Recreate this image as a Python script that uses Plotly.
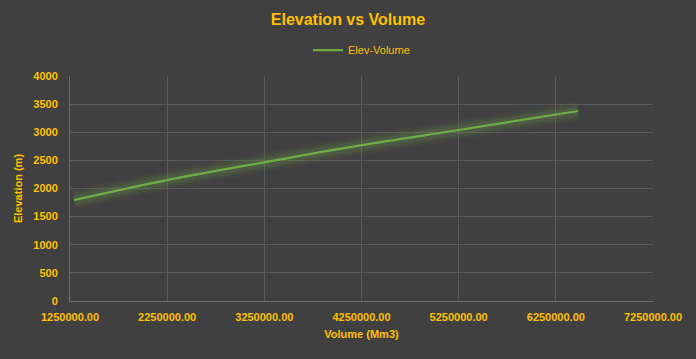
import plotly.graph_objects as go

volume = [1290000, 2250000, 3250000, 4250000, 5250000, 6480000]
elevation = [1795, 2150, 2465, 2770, 3040, 3378]
series_name = "Elev-Volume"
x_ticks = [1250000, 2250000, 3250000, 4250000, 5250000, 6250000, 7250000]
y_ticks = [0, 500, 1000, 1500, 2000, 2500, 3000, 3500, 4000]

gold = "#FFC000"
font_family = "Liberation Sans Narrow, Liberation Sans, Arial"

fig = go.Figure()
# glow layers
for w, a in [(20, 0.06), (14, 0.09), (9, 0.14)]:
    fig.add_trace(go.Scatter(x=volume, y=elevation, mode="lines",
                             line=dict(color=f"rgba(112,173,71,{a})", width=w, shape="spline"),
                             hoverinfo="skip", showlegend=False))
fig.add_trace(go.Scatter(x=volume, y=elevation, mode="lines", name=series_name,
                         line=dict(color="#70AD47", width=2.2, shape="spline")))

fig.update_layout(
    width=696, height=359,
    paper_bgcolor="#404040", plot_bgcolor="#404040",
    margin=dict(l=70, r=43, t=76, b=58),
    font=dict(family=font_family, color=gold, size=11),
    title=dict(text="<b>Elevation vs Volume</b>", x=0.5, xanchor="center", y=0.947, yanchor="middle",
               font=dict(size=16, color=gold, family=font_family)),
    legend=dict(orientation="h", x=0.5, xanchor="center", y=1.115, yanchor="middle",
                font=dict(size=11, color=gold), bgcolor="rgba(0,0,0,0)"),
    xaxis=dict(range=[x_ticks[0], x_ticks[-1]], tickvals=x_ticks,
               ticktext=[f"<b>{v:.2f}</b>" for v in x_ticks],
               showgrid=True, gridcolor="#5a5a5a", gridwidth=1,
               showline=True, linecolor="#6e6e6e", zeroline=False,
               ticks="", tickfont=dict(size=11, color=gold), ticklabelstandoff=6,
               title=dict(text="<b>Volume (Mm3)</b>", font=dict(size=11, color=gold), standoff=8)),
    yaxis=dict(range=[y_ticks[0], y_ticks[-1]], tickvals=y_ticks,
               ticktext=[f"<b>{v}</b>" for v in y_ticks],
               showgrid=True, gridcolor="#5a5a5a", gridwidth=1,
               showline=True, linecolor="#6e6e6e", zeroline=False,
               ticks="", tickfont=dict(size=11, color=gold), ticklabelstandoff=9,
               title=dict(text="<b>Elevation (m)</b>", font=dict(size=11, color=gold), standoff=8)),
)

fig.write_html("out.html", config={"displayModeBar": False},
               post_script="document.body.style.margin='0';document.body.style.padding='0';document.body.style.overflow='hidden';")
